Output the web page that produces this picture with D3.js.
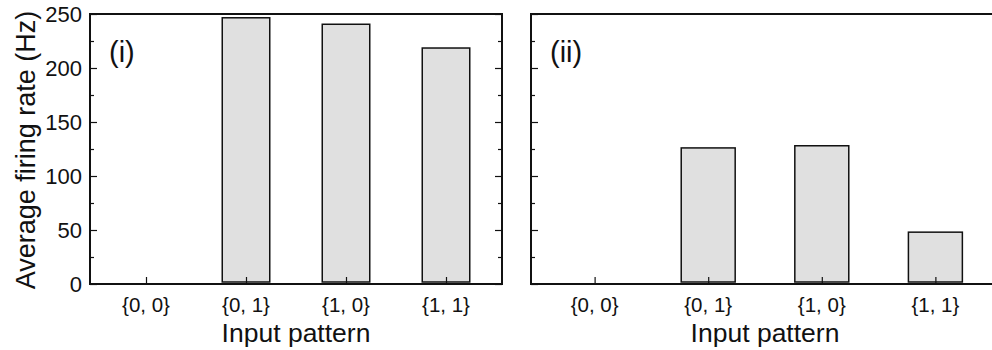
<!DOCTYPE html>
<html>
<head>
<meta charset="utf-8">
<script src="https://cdn.jsdelivr.net/npm/d3@7"></script>
<style>
  html, body { margin: 0; padding: 0; background: #fff; }
  svg { display: block; font-family: "Liberation Sans", Arial, Helvetica, sans-serif; }
</style>
</head>
<body>
<svg id="chart" width="992" height="350"></svg>
<script>
// Input patterns on the x axis
const patterns = ["{0, 0}", "{0, 1}", "{1, 0}", "{1, 1}"];
// Average firing rate (Hz) per input pattern, one array per panel
const rateI = [0, 246.5, 240.5, 218.5];
const rateII = [0, 126, 128, 48];
// Y tick values
const yMajor = [0, 50, 100, 150, 200, 250];
const yMinor = [25, 75, 125, 175, 225];
const panelLabels = ["(i)", "(ii)"];

const svg = d3.select("#chart");
const plotTop = 14, plotBottom = 284;
const y = d3.scaleLinear().domain([0, 250]).range([plotBottom, plotTop]);

const panels = [
  { x0: 90, x1: 502, values: rateI, label: panelLabels[0], yLabels: true },
  { x0: 531, x1: 999, values: rateII, label: panelLabels[1], yLabels: false }
];

panels.forEach(p => {
  const g = svg.append("g");
  const x = d3.scalePoint().domain(patterns).range([p.x0, p.x1]).padding(0.56);
  const bw = x.step() * 0.475;

  // bars
  g.selectAll("rect.bar")
    .data(p.values.map((v, i) => ({ k: patterns[i], v })).filter(d => d.v > 0))
    .join("rect")
    .attr("class", "bar")
    .attr("x", d => x(d.k) - bw / 2)
    .attr("y", d => y(d.v))
    .attr("width", bw)
    .attr("height", d => y(0) - 2 - y(d.v))
    .attr("fill", "#e0e0e0")
    .attr("stroke", "#111")
    .attr("stroke-width", 1.5);

  // y axis (left), ticks pointing inward
  g.append("g").attr("transform", `translate(${p.x0},0)`)
    .call(d3.axisRight(y).tickValues(yMajor).tickSize(7).tickFormat(""));
  g.append("g").attr("transform", `translate(${p.x0},0)`)
    .call(d3.axisRight(y).tickValues(yMinor).tickSize(4).tickFormat(""));
  // mirrored ticks on the right border
  g.append("g").attr("transform", `translate(${p.x1},0)`)
    .call(d3.axisLeft(y).tickValues(yMajor).tickSize(7).tickFormat(""));
  g.append("g").attr("transform", `translate(${p.x1},0)`)
    .call(d3.axisLeft(y).tickValues(yMinor).tickSize(4).tickFormat(""));

  // x axis, ticks pointing up
  g.append("g").attr("transform", `translate(0,${plotBottom})`)
    .call(d3.axisTop(x).tickSize(7).tickFormat(""));
  // x tick labels
  g.selectAll("text.xt").data(patterns).join("text")
    .attr("class", "xt")
    .attr("x", d => x(d))
    .attr("y", 312)
    .attr("text-anchor", "middle")
    .attr("font-size", 20.5)
    .attr("fill", "#111")
    .text(d => d);

  g.selectAll(".domain").remove();
  g.selectAll(".tick line").attr("stroke", "#111").attr("stroke-width", 1.2);

  // frame
  g.append("rect")
    .attr("x", p.x0).attr("y", plotTop)
    .attr("width", p.x1 - p.x0).attr("height", plotBottom - plotTop)
    .attr("fill", "none").attr("stroke", "#111").attr("stroke-width", 2);

  if (p.yLabels) {
    g.selectAll("text.yt").data(yMajor).join("text")
      .attr("class", "yt")
      .attr("x", p.x0 - 8)
      .attr("y", d => y(d))
      .attr("dy", "0.36em")
      .attr("text-anchor", "end")
      .attr("font-size", 22)
      .attr("fill", "#111")
      .text(d => d);
    svg.append("text")
      .attr("transform", `translate(35,${(plotTop + plotBottom) / 2 + 1}) rotate(-90)`)
      .attr("text-anchor", "middle")
      .attr("font-size", 27)
      .attr("fill", "#111")
      .text("Average firing rate (Hz)");
  }

  // panel label
  g.append("text")
    .attr("x", p.x0 + 19)
    .attr("y", 62)
    .attr("font-size", 29)
    .attr("fill", "#111")
    .text(p.label);

  // x axis title
  g.append("text")
    .attr("x", (p.x0 + p.x1) / 2)
    .attr("y", 342)
    .attr("text-anchor", "middle")
    .attr("font-size", 26.5)
    .attr("fill", "#111")
    .text("Input pattern");
});
</script>
</body>
</html>
